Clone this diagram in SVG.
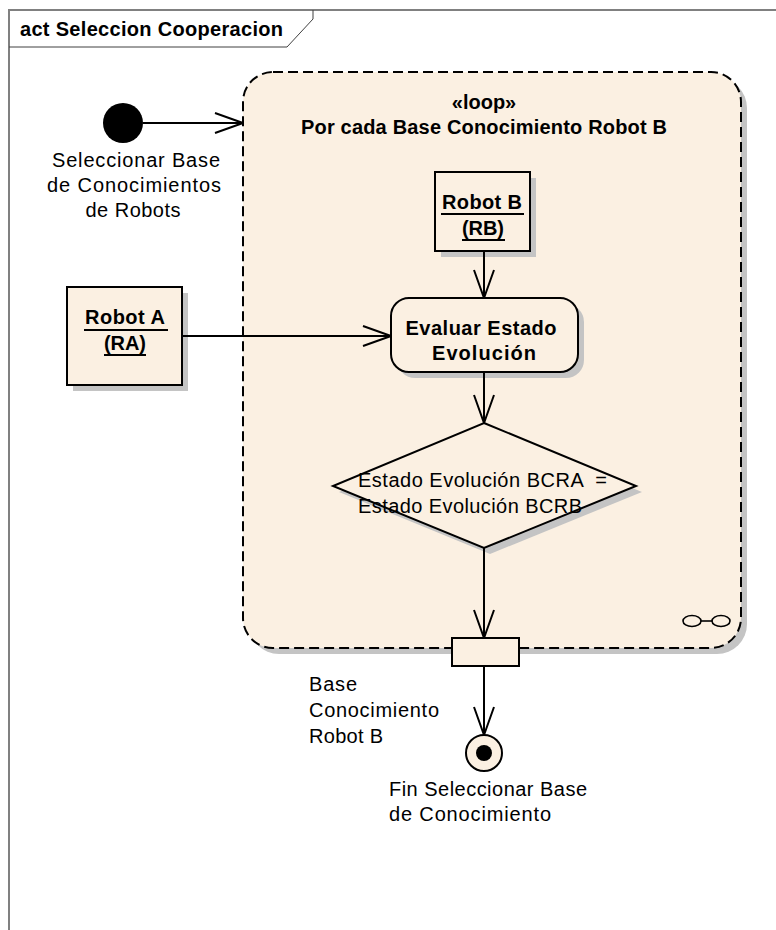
<svg xmlns="http://www.w3.org/2000/svg" width="776" height="930" viewBox="0 0 776 930">
  <style>
    .lbl { font-family: "Liberation Sans", Arial, sans-serif; font-size: 20px; fill: #000; }
    .bold { font-weight: bold; }
    .node { fill: #FBF0E2; stroke: #000; stroke-width: 2; }
    .shadow { fill: #C4C4C4; stroke: none; }
    .edge { fill: none; stroke: #000; stroke-width: 2; }
    .ul { stroke: #000; stroke-width: 2; }
  </style>
  <defs>
    <marker id="open" viewBox="0 0 30 22" refX="29" refY="11" markerWidth="30" markerHeight="22" markerUnits="userSpaceOnUse" orient="auto">
      <path d="M1,1 L29,11 L1,21" fill="none" stroke="#000" stroke-width="2"/>
    </marker>
  </defs>

  <rect width="776" height="930" fill="#FFFFFF"/>

  <!-- diagram frame -->
  <g id="frame">
    <path d="M9,930 V10 H776" fill="none" stroke="#808080" stroke-width="2"/>
    <path d="M9,47 H287 L313,19 V10" fill="none" stroke="#404040" stroke-width="1"/>
    <text class="lbl bold" x="20" y="36" textLength="263" lengthAdjust="spacing">act Seleccion Cooperacion</text>
  </g>

  <!-- expansion region (loop) -->
  <g id="loop">
    <rect class="shadow" x="249" y="78" width="498" height="576" rx="30"/>
    <rect x="243" y="72" width="498" height="576" rx="30" fill="#FBF0E2" stroke="#000" stroke-width="2" stroke-dasharray="10 5"/>
    <text class="lbl bold" x="484" y="109" text-anchor="middle">«loop»</text>
    <text class="lbl bold" x="484" y="134" text-anchor="middle" textLength="366" lengthAdjust="spacing">Por cada Base Conocimiento Robot B</text>
    <g fill="none" stroke="#000" stroke-width="1.6">
      <ellipse cx="692" cy="621" rx="9" ry="5.5"/>
      <ellipse cx="721" cy="621" rx="9" ry="5.5"/>
      <line x1="701" y1="621" x2="712" y2="621"/>
    </g>
  </g>

  <!-- initial node -->
  <g id="initial">
    <circle cx="123" cy="123" r="20" fill="#000"/>
    <text class="lbl" x="136" y="167" text-anchor="middle" textLength="168" lengthAdjust="spacing">Seleccionar Base</text>
    <text class="lbl" x="134" y="192" text-anchor="middle" textLength="174" lengthAdjust="spacing">de Conocimientos</text>
    <text class="lbl" x="133" y="217" text-anchor="middle" textLength="95" lengthAdjust="spacing">de Robots</text>
  </g>

  <!-- object node Robot B -->
  <g id="robotB">
    <rect class="shadow" x="441" y="178" width="95" height="79"/>
    <rect class="node" x="435" y="172" width="95" height="79"/>
    <text class="lbl bold" x="482" y="209" text-anchor="middle" textLength="80" lengthAdjust="spacing">Robot B</text>
    <line class="ul" x1="441" y1="214" x2="524" y2="214"/>
    <text class="lbl bold" x="483" y="235" text-anchor="middle" textLength="42" lengthAdjust="spacing">(RB)</text>
    <line class="ul" x1="462" y1="240" x2="505" y2="240"/>
  </g>

  <!-- object node Robot A -->
  <g id="robotA">
    <rect class="shadow" x="73" y="293" width="115" height="98"/>
    <rect class="node" x="67" y="287" width="115" height="98"/>
    <text class="lbl bold" x="125" y="324" text-anchor="middle" textLength="80" lengthAdjust="spacing">Robot A</text>
    <line class="ul" x1="84" y1="330" x2="168" y2="330"/>
    <text class="lbl bold" x="125" y="350" text-anchor="middle" textLength="42" lengthAdjust="spacing">(RA)</text>
    <line class="ul" x1="104" y1="355" x2="146" y2="355"/>
  </g>

  <!-- action Evaluar Estado Evolucion -->
  <g id="evaluar">
    <rect class="shadow" x="397" y="304" width="187" height="74" rx="18"/>
    <rect class="node" x="391" y="298" width="187" height="74" rx="18"/>
    <text class="lbl bold" x="481" y="335" text-anchor="middle" textLength="151" lengthAdjust="spacing">Evaluar Estado</text>
    <text class="lbl bold" x="484" y="360" text-anchor="middle" textLength="104" lengthAdjust="spacing">Evolución</text>
  </g>

  <!-- decision -->
  <g id="decision">
    <polygon class="shadow" points="490,429 642,492 490,554 339,492"/>
    <polygon class="node" points="484,423 636,486 484,548 333,486"/>
    <text class="lbl" x="358" y="487" xml:space="preserve" textLength="249" lengthAdjust="spacing">Estado Evolución BCRA  =</text>
    <text class="lbl" x="358" y="513" textLength="224" lengthAdjust="spacing">Estado Evolución BCRB</text>
  </g>

  <!-- output pin -->
  <g id="pin">
    <rect class="node" x="452" y="638" width="67" height="28"/>
    <text class="lbl" x="309" y="691" textLength="48" lengthAdjust="spacing">Base</text>
    <text class="lbl" x="309" y="717" textLength="130" lengthAdjust="spacing">Conocimiento</text>
    <text class="lbl" x="309" y="743" textLength="74" lengthAdjust="spacing">Robot B</text>
  </g>

  <!-- final node -->
  <g id="final">
    <circle cx="484" cy="753" r="18" fill="#FBF0E2" stroke="#000" stroke-width="2"/>
    <circle cx="484" cy="753" r="8" fill="#000"/>
    <text class="lbl" x="389" y="796" textLength="198" lengthAdjust="spacing">Fin Seleccionar Base</text>
    <text class="lbl" x="389" y="821" textLength="162" lengthAdjust="spacing">de Conocimiento</text>
  </g>

  <!-- connectors -->
  <g id="connectors">
    <path class="edge" d="M143,123 H243" marker-end="url(#open)"/>
    <path class="edge" d="M182,336 H391" marker-end="url(#open)"/>
    <path class="edge" d="M484,251 V298" marker-end="url(#open)"/>
    <path class="edge" d="M484,372 V423" marker-end="url(#open)"/>
    <path class="edge" d="M484,548 V638" marker-end="url(#open)"/>
    <path class="edge" d="M484,666 V735" marker-end="url(#open)"/>
  </g>
</svg>
